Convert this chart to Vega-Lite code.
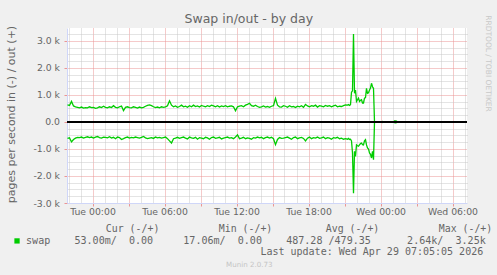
{
"$schema": "https://vega.github.io/schema/vega-lite/v6.json",
"width": 400, "height": 175,
"autosize": {"type": "none"},
"padding": {"left": 67, "top": 28, "right": 30, "bottom": 72},
"background": "#f0f0f0",
"title": {"text": "Swap in/out - by day", "font": "DejaVu Sans", "fontSize": 12.5, "fontWeight": "normal", "color": "#666666", "anchor": "middle", "frame": "group", "dx": -18.2, "dy": 25, "baseline": "alphabetic", "offset": 4},
"data": {"values": [
{"t":"2026-04-27T21:55","o":630,"i":-610},
{"t":"2026-04-27T22:05","o":610,"i":-590},
{"t":"2026-04-27T22:15","o":760,"i":-740},
{"t":"2026-04-27T22:25","o":590,"i":-650},
{"t":"2026-04-27T22:35","o":560,"i":-600},
{"t":"2026-04-27T22:45","o":540,"i":-570},
{"t":"2026-04-27T22:55","o":520,"i":-580},
{"t":"2026-04-27T23:05","o":550,"i":-560},
{"t":"2026-04-27T23:15","o":510,"i":-600},
{"t":"2026-04-27T23:25","o":530,"i":-570},
{"t":"2026-04-27T23:35","o":520,"i":-550},
{"t":"2026-04-27T23:45","o":560,"i":-580},
{"t":"2026-04-27T23:55","o":530,"i":-560},
{"t":"2026-04-28T00:05","o":540,"i":-600},
{"t":"2026-04-28T00:15","o":500,"i":-560},
{"t":"2026-04-28T00:25","o":520,"i":-540},
{"t":"2026-04-28T00:35","o":560,"i":-580},
{"t":"2026-04-28T00:45","o":530,"i":-600},
{"t":"2026-04-28T00:55","o":580,"i":-560},
{"t":"2026-04-28T01:05","o":540,"i":-570},
{"t":"2026-04-28T01:15","o":520,"i":-590},
{"t":"2026-04-28T01:25","o":560,"i":-550},
{"t":"2026-04-28T01:35","o":530,"i":-600},
{"t":"2026-04-28T01:45","o":600,"i":-570},
{"t":"2026-04-28T01:55","o":540,"i":-620},
{"t":"2026-04-28T02:05","o":520,"i":-560},
{"t":"2026-04-28T02:15","o":560,"i":-580},
{"t":"2026-04-28T02:25","o":590,"i":-650},
{"t":"2026-04-28T02:35","o":420,"i":-620},
{"t":"2026-04-28T02:45","o":540,"i":-580},
{"t":"2026-04-28T02:55","o":560,"i":-560},
{"t":"2026-04-28T03:05","o":530,"i":-600},
{"t":"2026-04-28T03:15","o":520,"i":-570},
{"t":"2026-04-28T03:25","o":560,"i":-590},
{"t":"2026-04-28T03:35","o":540,"i":-560},
{"t":"2026-04-28T03:45","o":510,"i":-580},
{"t":"2026-04-28T03:55","o":550,"i":-600},
{"t":"2026-04-28T04:05","o":520,"i":-570},
{"t":"2026-04-28T04:15","o":540,"i":-540},
{"t":"2026-04-28T04:25","o":580,"i":-590},
{"t":"2026-04-28T04:35","o":610,"i":-620},
{"t":"2026-04-28T04:45","o":630,"i":-600},
{"t":"2026-04-28T04:55","o":600,"i":-580},
{"t":"2026-04-28T05:05","o":560,"i":-610},
{"t":"2026-04-28T05:15","o":530,"i":-560},
{"t":"2026-04-28T05:25","o":550,"i":-590},
{"t":"2026-04-28T05:35","o":520,"i":-570},
{"t":"2026-04-28T05:45","o":560,"i":-600},
{"t":"2026-04-28T05:55","o":540,"i":-580},
{"t":"2026-04-28T06:05","o":560,"i":-560},
{"t":"2026-04-28T06:15","o":600,"i":-620},
{"t":"2026-04-28T06:25","o":780,"i":-700},
{"t":"2026-04-28T06:35","o":620,"i":-780},
{"t":"2026-04-28T06:45","o":560,"i":-620},
{"t":"2026-04-28T06:55","o":590,"i":-600},
{"t":"2026-04-28T07:05","o":540,"i":-570},
{"t":"2026-04-28T07:15","o":570,"i":-610},
{"t":"2026-04-28T07:25","o":620,"i":-580},
{"t":"2026-04-28T07:35","o":560,"i":-560},
{"t":"2026-04-28T07:45","o":580,"i":-600},
{"t":"2026-04-28T07:55","o":540,"i":-630},
{"t":"2026-04-28T08:05","o":600,"i":-560},
{"t":"2026-04-28T08:15","o":560,"i":-590},
{"t":"2026-04-28T08:25","o":620,"i":-610},
{"t":"2026-04-28T08:35","o":570,"i":-570},
{"t":"2026-04-28T08:45","o":590,"i":-640},
{"t":"2026-04-28T08:55","o":550,"i":-580},
{"t":"2026-04-28T09:05","o":610,"i":-600},
{"t":"2026-04-28T09:15","o":580,"i":-620},
{"t":"2026-04-28T09:25","o":560,"i":-570},
{"t":"2026-04-28T09:35","o":600,"i":-590},
{"t":"2026-04-28T09:45","o":570,"i":-640},
{"t":"2026-04-28T09:55","o":620,"i":-580},
{"t":"2026-04-28T10:05","o":590,"i":-560},
{"t":"2026-04-28T10:15","o":560,"i":-610},
{"t":"2026-04-28T10:25","o":600,"i":-590},
{"t":"2026-04-28T10:35","o":550,"i":-570},
{"t":"2026-04-28T10:45","o":590,"i":-630},
{"t":"2026-04-28T10:55","o":570,"i":-600},
{"t":"2026-04-28T11:05","o":600,"i":-580},
{"t":"2026-04-28T11:15","o":560,"i":-560},
{"t":"2026-04-28T11:25","o":580,"i":-600},
{"t":"2026-04-28T11:35","o":590,"i":-580},
{"t":"2026-04-28T11:45","o":560,"i":-620},
{"t":"2026-04-28T11:55","o":410,"i":-560},
{"t":"2026-04-28T12:05","o":560,"i":-480},
{"t":"2026-04-28T12:15","o":580,"i":-620},
{"t":"2026-04-28T12:25","o":600,"i":-600},
{"t":"2026-04-28T12:35","o":560,"i":-570},
{"t":"2026-04-28T12:45","o":620,"i":-620},
{"t":"2026-04-28T12:55","o":650,"i":-590},
{"t":"2026-04-28T13:05","o":690,"i":-610},
{"t":"2026-04-28T13:15","o":600,"i":-640},
{"t":"2026-04-28T13:25","o":580,"i":-580},
{"t":"2026-04-28T13:35","o":620,"i":-600},
{"t":"2026-04-28T13:45","o":570,"i":-560},
{"t":"2026-04-28T13:55","o":540,"i":-590},
{"t":"2026-04-28T14:05","o":560,"i":-570},
{"t":"2026-04-28T14:15","o":590,"i":-620},
{"t":"2026-04-28T14:25","o":550,"i":-580},
{"t":"2026-04-28T14:35","o":570,"i":-560},
{"t":"2026-04-28T14:45","o":540,"i":-600},
{"t":"2026-04-28T14:55","o":580,"i":-570},
{"t":"2026-04-28T15:05","o":600,"i":-620},
{"t":"2026-04-28T15:15","o":870,"i":-840},
{"t":"2026-04-28T15:25","o":620,"i":-650},
{"t":"2026-04-28T15:35","o":560,"i":-580},
{"t":"2026-04-28T15:45","o":550,"i":-610},
{"t":"2026-04-28T15:55","o":600,"i":-600},
{"t":"2026-04-28T16:05","o":580,"i":-580},
{"t":"2026-04-28T16:15","o":540,"i":-560},
{"t":"2026-04-28T16:25","o":600,"i":-600},
{"t":"2026-04-28T16:35","o":560,"i":-640},
{"t":"2026-04-28T16:45","o":570,"i":-580},
{"t":"2026-04-28T16:55","o":530,"i":-560},
{"t":"2026-04-28T17:05","o":580,"i":-620},
{"t":"2026-04-28T17:15","o":560,"i":-590},
{"t":"2026-04-28T17:25","o":600,"i":-570},
{"t":"2026-04-28T17:35","o":540,"i":-610},
{"t":"2026-04-28T17:45","o":650,"i":-700},
{"t":"2026-04-28T17:55","o":590,"i":-600},
{"t":"2026-04-28T18:05","o":560,"i":-560},
{"t":"2026-04-28T18:15","o":600,"i":-620},
{"t":"2026-04-28T18:25","o":580,"i":-580},
{"t":"2026-04-28T18:35","o":620,"i":-600},
{"t":"2026-04-28T18:45","o":550,"i":-560},
{"t":"2026-04-28T18:55","o":600,"i":-610},
{"t":"2026-04-28T19:05","o":580,"i":-590},
{"t":"2026-04-28T19:15","o":560,"i":-560},
{"t":"2026-04-28T19:25","o":610,"i":-620},
{"t":"2026-04-28T19:35","o":580,"i":-580},
{"t":"2026-04-28T19:45","o":600,"i":-600},
{"t":"2026-04-28T19:55","o":560,"i":-640},
{"t":"2026-04-28T20:05","o":590,"i":-580},
{"t":"2026-04-28T20:15","o":620,"i":-600},
{"t":"2026-04-28T20:25","o":560,"i":-570},
{"t":"2026-04-28T20:35","o":580,"i":-620},
{"t":"2026-04-28T20:45","o":570,"i":-600},
{"t":"2026-04-28T20:55","o":600,"i":-640},
{"t":"2026-04-28T21:05","o":630,"i":-620},
{"t":"2026-04-28T21:15","o":620,"i":-640},
{"t":"2026-04-28T21:20","o":640,"i":-610},
{"t":"2026-04-28T21:25","o":610,"i":-650},
{"t":"2026-04-28T21:30","o":640,"i":-640},
{"t":"2026-04-28T21:35","o":1100,"i":-700},
{"t":"2026-04-28T21:40","o":1150,"i":-1150},
{"t":"2026-04-28T21:45","o":3250,"i":-2640},
{"t":"2026-04-28T21:50","o":1060,"i":-1090},
{"t":"2026-04-28T21:55","o":1180,"i":-1275},
{"t":"2026-04-28T22:00","o":760,"i":-850},
{"t":"2026-04-28T22:05","o":820,"i":-880},
{"t":"2026-04-28T22:10","o":880,"i":-900},
{"t":"2026-04-28T22:15","o":760,"i":-850},
{"t":"2026-04-28T22:20","o":800,"i":-800},
{"t":"2026-04-28T22:25","o":820,"i":-780},
{"t":"2026-04-28T22:30","o":700,"i":-840},
{"t":"2026-04-28T22:35","o":700,"i":-850},
{"t":"2026-04-28T22:40","o":880,"i":-700},
{"t":"2026-04-28T22:45","o":900,"i":-660},
{"t":"2026-04-28T22:50","o":1240,"i":-850},
{"t":"2026-04-28T22:55","o":1060,"i":-960},
{"t":"2026-04-28T23:00","o":1080,"i":-1000},
{"t":"2026-04-28T23:05","o":1180,"i":-1150},
{"t":"2026-04-28T23:10","o":1250,"i":-1200},
{"t":"2026-04-28T23:15","o":1430,"i":-1335},
{"t":"2026-04-28T23:20","o":1300,"i":-1090},
{"t":"2026-04-28T23:25","o":1245,"i":-1400},
{"t":"2026-04-28T23:30","o":0,"i":0},
{"t":"2026-04-29T00:05","o":0,"i":0},
{"t":"2026-04-29T00:10","o":20,"i":-20},
{"t":"2026-04-29T00:15","o":0,"i":0},
{"t":"2026-04-29T01:05","o":0,"i":0},
{"t":"2026-04-29T01:10","o":35,"i":-30},
{"t":"2026-04-29T01:15","o":40,"i":-35},
{"t":"2026-04-29T01:20","o":30,"i":-25},
{"t":"2026-04-29T01:25","o":0,"i":0},
{"t":"2026-04-29T07:05","o":0,"i":0}
]},
"layer": [
{
"mark": {"type": "line", "strokeWidth": 1.3},
"encoding": {
"x": {"field": "t", "type": "temporal",
 "scale": {"domain": [{"year":2026,"month":4,"date":27,"hours":21,"minutes":52,"seconds":30},{"year":2026,"month":4,"date":29,"hours":7,"minutes":12,"seconds":30}], "nice": false},
 "axis": {"orient": "bottom",
  "values": [{"year":2026,"month":4,"date":28,"hours":0},{"year":2026,"month":4,"date":28,"hours":3},{"year":2026,"month":4,"date":28,"hours":6},{"year":2026,"month":4,"date":28,"hours":9},{"year":2026,"month":4,"date":28,"hours":12},{"year":2026,"month":4,"date":28,"hours":15},{"year":2026,"month":4,"date":28,"hours":18},{"year":2026,"month":4,"date":28,"hours":21},{"year":2026,"month":4,"date":29,"hours":0},{"year":2026,"month":4,"date":29,"hours":3},{"year":2026,"month":4,"date":29,"hours":6}],
  "labelExpr": "hours(datum.value) % 6 == 0 ? timeFormat(datum.value, '%a %H:%M') : ''",
  "labelFont": "DejaVu Sans", "labelFontSize": 9.3, "labelColor": "#666666", "labelPadding": 1, "labelFlush": false, "labelOverlap": false,
  "tickSize": 3, "tickColor": "#eb9595", "domainColor": "#CFD6F8",
  "grid": true, "gridColor": "#eb9595", "gridDash": [1, 1],
  "title": "Last update: Wed Apr 29 07:05:05 2026", "titleFont": "DejaVu Sans Mono", "titleFontSize": 10, "titleFontWeight": "normal", "titleColor": "#666666",
  "titleX": 415.7, "titleY": 48.7, "titleAlign": "right", "titleBaseline": "middle", "titleAngle": 0}},
"y": {"field": "o", "type": "quantitative",
 "scale": {"domain": [-3000, 3475], "nice": false, "zero": false},
 "axis": {"orient": "left", "values": [-3000, -2000, -1000, 0, 1000, 2000, 3000],
  "labelExpr": "datum.value == 0 ? '0.0' : (datum.value < 0 ? '-' : '') + format(abs(datum.value) / 1000, '.1f') + ' k'",
  "labelFont": "DejaVu Sans", "labelFontSize": 9.3, "labelColor": "#666666", "labelPadding": 4.5,
  "tickSize": 3, "tickColor": "#eb9595", "domainColor": "#CFD6F8",
  "grid": true, "gridColor": "#eb9595", "gridDash": [1, 1],
  "title": "pages per second in (-) / out (+)", "titleFont": "DejaVu Sans", "titleFontSize": 11, "titleFontWeight": "normal", "titleColor": "#666666",
  "titleX": -56, "titleY": 86, "titleAngle": -90, "titleAlign": "center", "titleBaseline": "middle"}},
"color": {"datum": "swap", "type": "nominal", "scale": {"range": ["#00cc00"]},
 "legend": {"orient": "none", "legendX": -56.3, "legendY": 195.5, "padding": 0,
  "title": "\u200b\u00a0\u00a0\u00a0\u00a0\u00a0\u00a0\u00a0\u00a0\u00a0\u00a0\u00a0\u00a0\u00a0\u00a0\u00a0\u00a0Cur (-/+)\u00a0\u00a0\u00a0\u00a0\u00a0\u00a0\u00a0\u00a0\u00a0\u00a0Min (-/+)\u00a0\u00a0\u00a0\u00a0\u00a0\u00a0\u00a0\u00a0\u00a0Avg (-/+)\u00a0\u00a0\u00a0\u00a0\u00a0\u00a0\u00a0\u00a0\u00a0\u00a0Max (-/+)",
  "titleFont": "DejaVu Sans Mono", "titleFontSize": 9.9, "titleFontWeight": "normal", "titleColor": "#666666", "titlePadding": 2.5, "titleLimit": 1000, "titleAlign": "left", "titleAnchor": "start",
  "labelExpr": "'swap\u00a0\u00a0\u00a0\u00a053.00m/\u00a0\u00a00.00\u00a0\u00a0\u00a0\u00a0\u00a017.06m/\u00a0\u00a00.00\u00a0\u00a0\u00a0\u00a0487.28\u00a0/479.35\u00a0\u00a0\u00a0\u00a0\u00a0\u00a02.64k/\u00a0\u00a03.25k'",
  "labelFont": "DejaVu Sans Mono", "labelFontSize": 10.05, "labelColor": "#666666", "labelLimit": 1000, "labelOffset": 4,
  "symbolType": "square", "symbolSize": 28, "symbolOffset": 1.3, "symbolStrokeWidth": 0, "symbolFillColor": "#00cc00",
  "encode": {"symbols": {"update": {"fill": {"value": "#00cc00"}, "strokeWidth": {"value": 0}}}}}}
}
},
{
"mark": {"type": "line", "strokeWidth": 1.3},
"encoding": {
"x": {"field": "t", "type": "temporal", "axis": null},
"y": {"field": "i", "type": "quantitative", "axis": null},
"color": {"datum": "swap", "type": "nominal"}
}
},
{
"mark": {"type": "rule", "color": "#000000", "strokeWidth": 1, "yOffset": 0.58},
"encoding": {
"x": {"datum": {"year":2026,"month":4,"date":27,"hours":21,"minutes":52,"seconds":30}, "type": "temporal",
 "axis": {"orient": "top",
  "values": [{"year":2026,"month":4,"date":27,"hours":22},{"year":2026,"month":4,"date":27,"hours":23},{"year":2026,"month":4,"date":28,"hours":1},{"year":2026,"month":4,"date":28,"hours":2},{"year":2026,"month":4,"date":28,"hours":4},{"year":2026,"month":4,"date":28,"hours":5},{"year":2026,"month":4,"date":28,"hours":7},{"year":2026,"month":4,"date":28,"hours":8},{"year":2026,"month":4,"date":28,"hours":10},{"year":2026,"month":4,"date":28,"hours":11},{"year":2026,"month":4,"date":28,"hours":13},{"year":2026,"month":4,"date":28,"hours":14},{"year":2026,"month":4,"date":28,"hours":16},{"year":2026,"month":4,"date":28,"hours":17},{"year":2026,"month":4,"date":28,"hours":19},{"year":2026,"month":4,"date":28,"hours":20},{"year":2026,"month":4,"date":28,"hours":22},{"year":2026,"month":4,"date":28,"hours":23},{"year":2026,"month":4,"date":29,"hours":1},{"year":2026,"month":4,"date":29,"hours":2},{"year":2026,"month":4,"date":29,"hours":4},{"year":2026,"month":4,"date":29,"hours":5},{"year":2026,"month":4,"date":29,"hours":7}],
  "labels": false, "ticks": false, "domain": false,
  "grid": true, "gridColor": "#c8c8c8", "gridDash": [1, 1],
  "title": "Munin 2.0.73", "titleFont": "DejaVu Sans", "titleFontSize": 7.1, "titleFontWeight": "normal", "titleColor": "#c4c4c4",
  "titleX": 181.8, "titleY": 236.3, "titleAlign": "center", "titleBaseline": "middle", "titleAngle": 0}},
"x2": {"datum": {"year":2026,"month":4,"date":29,"hours":7,"minutes":12,"seconds":30}},
"y": {"datum": 0, "type": "quantitative",
 "axis": {"orient": "right", "values": [-2750, -2500, -2250, -1750, -1500, -1250, -750, -500, -250, 250, 500, 750, 1250, 1500, 1750, 2250, 2500, 2750, 3250],
  "labels": false, "ticks": false, "domain": false,
  "grid": true, "gridColor": "#c8c8c8", "gridDash": [1, 1],
  "title": "RRDTOOL / TOBI OETIKER", "titleFont": "DejaVu Sans", "titleFontSize": 7.5, "titleFontWeight": "normal", "titleColor": "#c8c8c8",
  "titleX": 20.5, "titleY": 35, "titleAngle": 90, "titleAlign": "center", "titleBaseline": "middle"}}
}
}
],
"resolve": {"axis": {"x": "independent", "y": "independent"}},
"config": {"view": {"fill": "white", "stroke": null}}
}
